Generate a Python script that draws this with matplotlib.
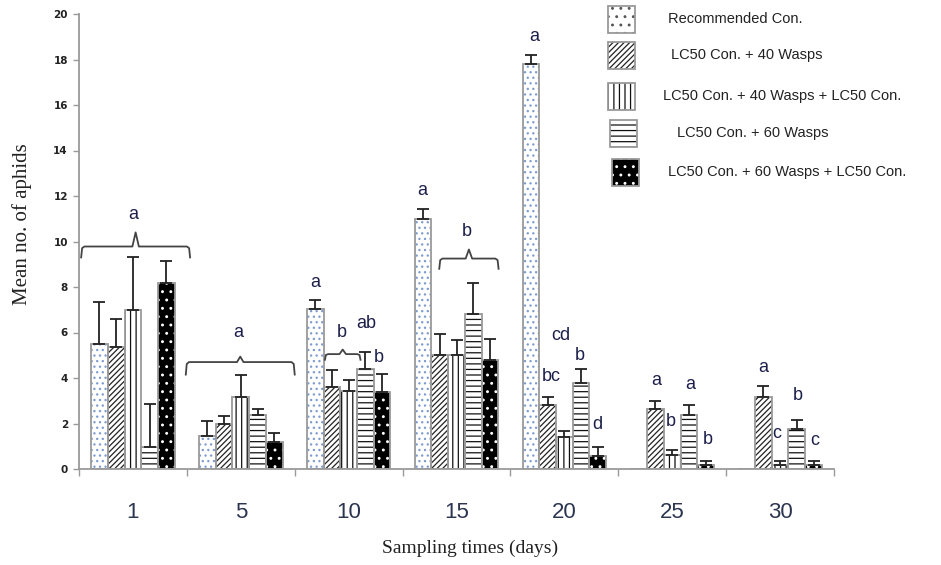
import matplotlib
matplotlib.use("Agg")
import matplotlib.pyplot as plt
import numpy as np
from matplotlib.patches import Rectangle

days = ["1", "5", "10", "15", "20", "25", "30"]
treatments = ["Recommended Con.", "LC50 Con. + 40 Wasps", "LC50 Con. + 40 Wasps + LC50 Con.",
              "LC50 Con. + 60 Wasps", "LC50 Con. + 60 Wasps + LC50 Con."]
rec      = [5.5, 1.46, 7.03, 11.0, 17.8, 0.0, 0.0]
lc40     = [5.35, 2.0, 3.6, 5.0, 2.8, 2.64, 3.18]
lc40_lc  = [7.0, 3.18, 3.41, 5.0, 1.39, 0.6, 0.17]
lc60     = [0.97, 2.39, 4.41, 6.8, 3.79, 2.37, 1.77]
lc60_lc  = [8.18, 1.2, 3.38, 4.8, 0.57, 0.19, 0.19]
rec_err     = [1.82, 0.66, 0.38, 0.42, 0.4, 0.0, 0.0]
lc40_err    = [1.25, 0.33, 0.73, 0.92, 0.38, 0.36, 0.48]
lc40_lc_err = [2.3, 0.96, 0.5, 0.68, 0.26, 0.25, 0.18]
lc60_err    = [1.89, 0.23, 0.73, 1.38, 0.61, 0.44, 0.37]
lc60_lc_err = [0.97, 0.38, 0.79, 0.93, 0.41, 0.16, 0.18]

# significance letters: (x, y, text)
letters = [(0.0, 11.2, "a"), (0.974, 6.0, "a"),
           (1.69, 8.2, "a"), (1.94, 6.0, "b"), (2.16, 6.4, "ab"), (2.28, 4.9, "b"),
           (2.68, 12.25, "a"), (3.10, 10.45, "b"),
           (3.72, 19.0, "a"), (3.88, 4.07, "bc"), (3.97, 5.86, "cd"), (4.14, 4.98, "b"), (4.31, 1.95, "d"),
           (4.85, 3.9, "a"), (4.99, 2.07, "b"), (5.17, 3.7, "a"), (5.33, 1.29, "b"),
           (5.84, 4.44, "a"), (5.97, 1.58, "c"), (6.16, 3.22, "b"), (6.32, 1.26, "c")]
# braces: (x0, x1, y, tip_y, point_y)
braces = [(-0.48, 0.53, 9.78, 9.3, 10.4),
          (0.49, 1.50, 4.7, 4.15, 4.94),
          (1.78, 2.11, 5.05, 4.8, 5.25),
          (2.84, 3.39, 9.25, 8.8, 9.65)]

values = [rec, lc40, lc40_lc, lc60, lc60_lc]
errs = [rec_err, lc40_err, lc40_lc_err, lc60_err, lc60_lc_err]
styles = [dict(face="white", hatch="...", hcol="#7d9bd0"),
          dict(face="white", hatch="//////", hcol="#222222"),
          dict(face="white", hatch="|||", hcol="#111111"),
          dict(face="white", hatch="---", hcol="#111111"),
          dict(face="black", hatch="..", hcol="white")]

plt.rcParams['hatch.linewidth'] = 0.9
fig = plt.figure(figsize=(9.41, 5.65), dpi=100)
ax = fig.add_axes([79/941, 1-469/565, (834-79)/941, (469-14)/565])

x = np.arange(len(days))
w = 0.155
edge = "#9a9a9a"
for i, (vals, er, st) in enumerate(zip(values, errs, styles)):
    pos = x + (i - 2) * w
    ax.bar(pos, vals, w, color=st["face"], hatch=st["hatch"], edgecolor=st["hcol"], linewidth=0, zorder=2)
    ax.bar(pos, vals, w, fill=False, edgecolor=edge, linewidth=1.3, zorder=3)
    er_arr = np.array(er)
    mask = er_arr > 0
    ax.errorbar(pos[mask], np.array(vals)[mask], yerr=[np.zeros(mask.sum()), er_arr[mask]],
                fmt="none", ecolor="#222222", elinewidth=1.3, capsize=4, capthick=1.3, zorder=4)

txtcol = "#1c1f4a"
for lx, ly, t in letters:
    ax.text(lx, ly, t, ha="center", va="center", fontsize=13, color=txtcol, family="Liberation Sans")

for x0, x1, y, ty, py in braces:
    xm = (x0 + x1) / 2
    d = 0.03
    xs = [x0, x0 + d * 0.3, x0 + d, xm - d, xm, xm + d, x1 - d, x1 - d * 0.3, x1]
    ys = [ty, y - (y - ty) * 0.15, y, y, py, y, y, y - (y - ty) * 0.15, ty]
    ax.plot(xs, ys, color="#444444", lw=1.3, zorder=5, clip_on=False)

ax.set_xlim(-0.5, 6.5)
ax.set_ylim(0, 20)
ax.set_yticks(np.arange(0, 21, 2))
ax.tick_params(axis="y", labelsize=7.5, colors=edge, length=4, width=1, direction="out", pad=4)
for lab in ax.get_yticklabels():
    lab.set_fontweight("bold")
    lab.set_color("#222222")
ax.set_xticks(np.arange(-0.5, 7, 1.0))
ax.set_xticklabels([])
ax.tick_params(axis="x", which="major", length=5, width=1, colors=edge)
ax.set_xticks(x, minor=True)
ax.set_xticklabels(days, minor=True, fontsize=16, color="#2b3550", family="Liberation Sans")
ax.tick_params(axis="x", which="minor", length=0, pad=24)

for s in ["top", "right"]:
    ax.spines[s].set_visible(False)
for s in ["left", "bottom"]:
    ax.spines[s].set_color(edge)
    ax.spines[s].set_linewidth(1.3)

fig.text(22/941, 1 - 224/565, "Mean no. of aphids", rotation=90, ha="center", va="center",
         fontsize=15, family="Liberation Serif", color="#222222")
fig.text(470/941, 1 - 548/565, "Sampling times (days)", ha="center", va="center",
         fontsize=14, family="Liberation Serif", color="#222222")

# legend drawn manually
leg_rows = [(19, 608, 668), (55, 608, 671), (96, 608, 663), (133, 610, 677), (172, 612, 668)]
leg_hatch = ["..", "//////", "|||", "---", ".."]
leg_hcol = ["#555555", "#222222", "#111111", "#111111", "white"]
for (cy, px, tx), st, lab, hh, hc in zip(leg_rows, styles, treatments, leg_hatch, leg_hcol):
    pw, ph = 27, 27
    r1 = Rectangle((px/941, 1 - (cy + ph/2)/565), pw/941, ph/565, transform=fig.transFigure,
                   facecolor=st["face"], hatch=hh, edgecolor=hc, linewidth=0)
    r2 = Rectangle((px/941, 1 - (cy + ph/2)/565), pw/941, ph/565, transform=fig.transFigure,
                   fill=False, edgecolor=edge, linewidth=1.3)
    fig.add_artist(r1)
    fig.add_artist(r2)
    fig.text(tx/941, 1 - cy/565, lab, ha="left", va="center", fontsize=10.5,
             family="Liberation Sans", color="#222222")

fig.savefig("out.png", dpi=100)
